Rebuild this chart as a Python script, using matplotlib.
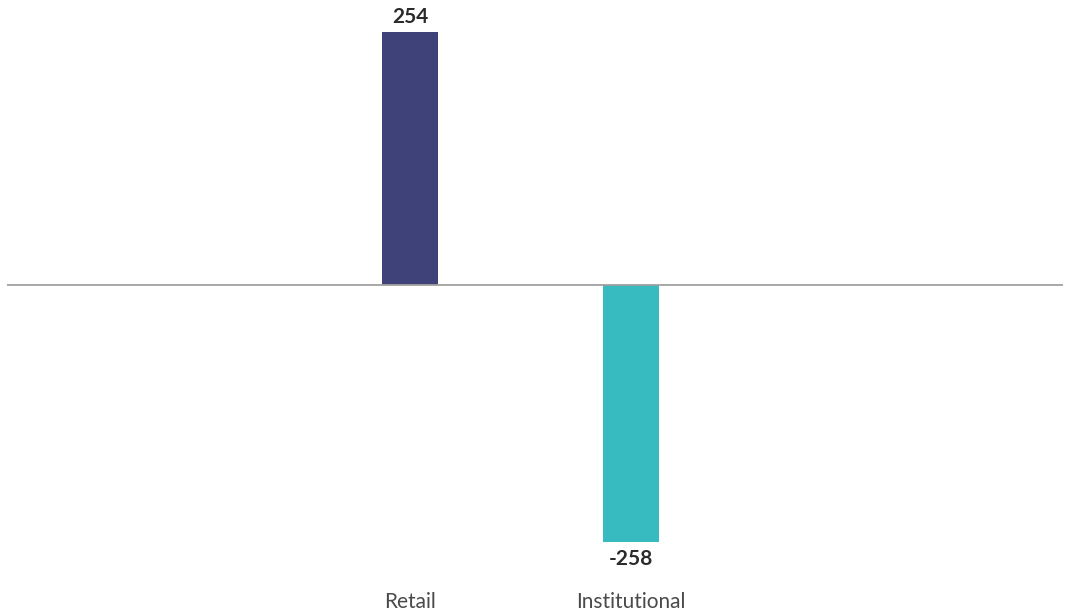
import matplotlib
matplotlib.use("Agg")
import matplotlib.pyplot as plt

categories = ["Retail", "Institutional"]
values = [254, -258]
colors = ["#3F4179", "#38BBC0"]

plt.rcParams['font.family'] = ['Lato', 'DejaVu Sans']

W, H = 1068, 613
fig = plt.figure(figsize=(W/100, H/100), dpi=100)
ax_left, ax_right = 7, 1063
ax_top, ax_bot = 0, 575
ax = fig.add_axes([ax_left/W, 1 - ax_bot/H, (ax_right-ax_left)/W, (ax_bot-ax_top)/H])

x = list(range(len(categories)))
ax.bar(x, values, width=0.25, color=colors, zorder=2)
ax.axhline(0, color="#A0A0A0", linewidth=1.3, zorder=3)

for xi, v in zip(x, values):
    if v >= 0:
        ax.annotate(f"{v}", (xi, v), xytext=(0, 4), textcoords="offset points",
                    ha="center", va="bottom", fontsize=15, fontweight="bold", color="#2b2b2b")
    else:
        ax.annotate(f"{v}", (xi, v), xytext=(0, -5), textcoords="offset points",
                    ha="center", va="top", fontsize=15, fontweight="bold", color="#2b2b2b")

ax.set_xlim(-1.824, 2.955)
ax.set_ylim(-291.5, 286.4)
ax.set_xticks(x)
ax.set_xticklabels(categories, fontsize=15, color="#4a4a4a")
ax.tick_params(axis="x", length=0, pad=12.5)
ax.set_yticks([])
for s in ax.spines.values():
    s.set_visible(False)

fig.savefig("out.png", dpi=100)
